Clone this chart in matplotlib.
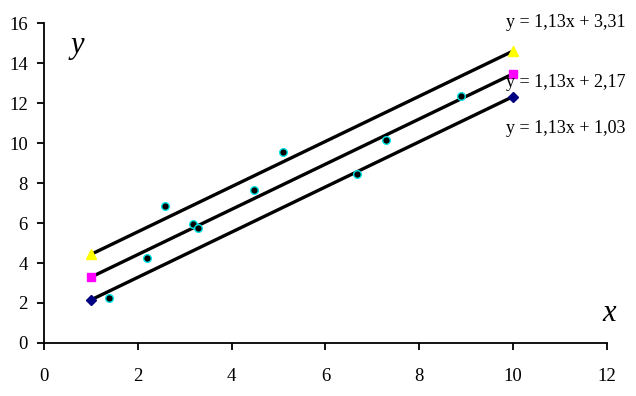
import matplotlib
matplotlib.use("Agg")
import matplotlib.pyplot as plt
import numpy as np

# scattered measurements
x_pts = [1.38, 2.19, 2.58, 3.18, 3.28, 4.48, 5.10, 6.68, 7.30, 8.90]
y_pts = [2.24, 4.24, 6.85, 5.95, 5.75, 7.65, 9.55, 8.45, 10.15, 12.35]

# three parallel lines y = k*x + b
slope = 1.13
intercepts = [1.03, 2.17, 3.31]
line_x = [1, 10]
labels = ["y = 1,13x + 1,03", "y = 1,13x + 2,17", "y = 1,13x + 3,31"]

plt.rcParams["font.family"] = ["Liberation Serif", "DejaVu Serif"]

fig = plt.figure(figsize=(6.36, 3.96), dpi=100)
ax = fig.add_axes([0.0697, 0.134, 0.884, 0.807])

marker_styles = [
    dict(marker="D", color="#000080", markersize=5),
    dict(marker="s", color="#ff00ff", markersize=6),
    dict(marker="^", color="#ffff00", markersize=7),
]
lx = np.array(line_x, dtype=float)
for b, ms in zip(intercepts, marker_styles):
    ly = slope * lx + b
    ax.plot(lx, ly, color="black", linewidth=2.4, zorder=2)
    ax.plot(lx, ly, linestyle="none", marker=ms["marker"],
            markersize=ms["markersize"], markerfacecolor=ms["color"],
            markeredgecolor=ms["color"], zorder=3)

ax.plot(x_pts, y_pts, linestyle="none", marker="o", markersize=5.5,
        markerfacecolor="black", markeredgecolor="#00e5e5",
        markeredgewidth=1, zorder=4)

# equation labels
ax.text(12.4, 16.05, labels[2], fontsize=13, ha="right", va="center")
ax.text(12.4, 13.05, labels[1], fontsize=13, ha="right", va="center")
ax.text(12.4, 10.75, labels[0], fontsize=13, ha="right", va="center")

ax.text(0.7, 14.9, "y", fontsize=22, style="italic", ha="center", va="center")
ax.text(12.05, 1.45, "x", fontsize=22, style="italic", ha="center", va="center")

ax.set_xlim(0, 12)
ax.set_ylim(0, 16)
ax.set_xticks(range(0, 13, 2))
ax.set_yticks(range(0, 17, 2))
for s in ["top", "right"]:
    ax.spines[s].set_visible(False)
for s in ["left", "bottom"]:
    ax.spines[s].set_linewidth(1.3)
ax.tick_params(axis="x", direction="out", length=5, width=1.3, pad=13, labelsize=13.5)
ax.tick_params(axis="y", direction="out", length=5, width=1.3, pad=7, labelsize=13.5)

fig.savefig("out.png", dpi=100)
